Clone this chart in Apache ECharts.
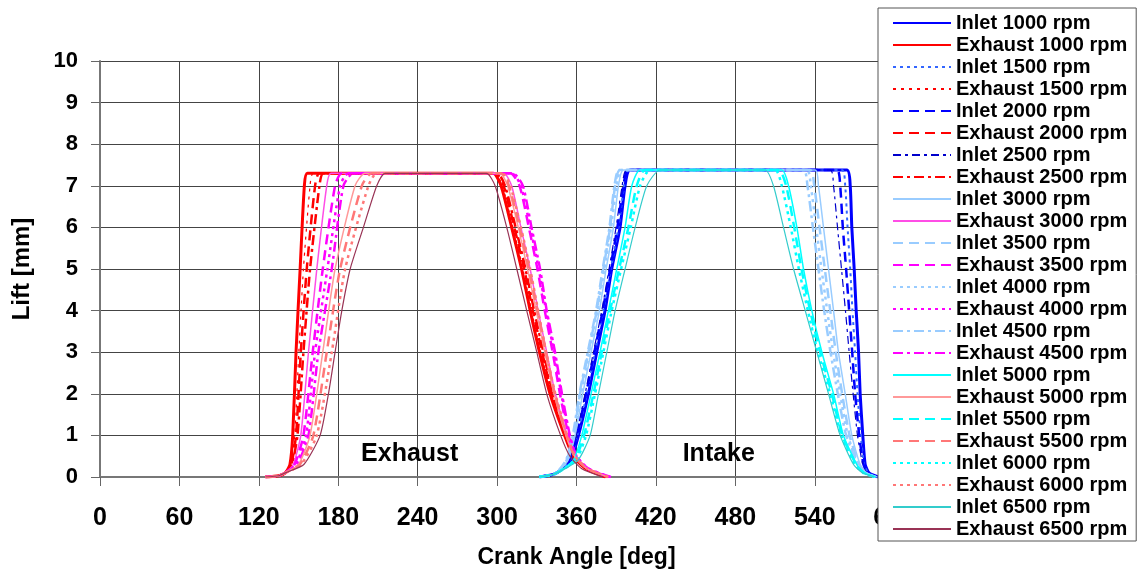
<!DOCTYPE html>
<html>
<head>
<meta charset="utf-8">
<script src="https://cdn.jsdelivr.net/npm/echarts@6/dist/echarts.min.js"></script>
<style>
html, body { margin: 0; padding: 0; background: #fff; }
#chart { width: 1143px; height: 574px; }
</style>
</head>
<body>
<div id="chart"></div>
<script>
// crank angle [deg] / lift [mm] pairs
var exhaust1000 = [[125,0],[135,0.03],[140,0.1],[143.5,0.3],[145.6,1],[148.1,3],[151.2,5],[154.4,7],[156.7,7.3],[297,7.3],[303,7],[311,6],[318.5,5],[325,4],[332,3],[340,2],[351,1],[357.5,0.5],[367,0.2],[382,0]];
var exhaust1500 = [[125,0],[135,0.03],[140,0.1],[144,0.3],[147.1,1],[150.2,3],[153.7,5],[158.7,7],[161.2,7.3],[298,7.3],[304,7],[312,6],[319.5,5],[326,4],[333,3],[341,2],[351.5,1],[358,0.5],[367.5,0.2],[383,0]];
var exhaust2000 = [[125,0],[135,0.03],[140,0.1],[144.5,0.3],[148.1,1],[151.7,3],[156.2,5],[162.5,7],[165.8,7.3],[299,7.3],[305,7],[313,6],[320.5,5],[327,4],[334,3],[341.5,2],[352,1],[358,0.5],[368,0.2],[383,0]];
var exhaust2500 = [[125,0],[135,0.03],[140,0.1],[145,0.3],[149.2,1],[153.7,3],[158.7,5],[165.8,7],[168.8,7.3],[300,7.3],[306,7],[314,6],[321.5,5],[328,4],[335,3],[342,2],[352,1],[358.5,0.5],[368,0.2],[384,0]];
var exhaust3000 = [[125,0],[135,0.03],[140,0.1],[146,0.3],[151.7,1],[157.5,3],[163.8,5],[171.3,7],[174.5,7.3],[305,7.3],[311,7],[318,6],[325,5],[331,4],[337.5,3],[344,2],[353,1],[359,0.5],[368,0.2],[384,0]];
var exhaust3500 = [[125,0],[135,0.03],[140,0.1],[147,0.3],[153.7,1],[160.7,3],[168.3,5],[177.6,7],[182.7,7.3],[310,7.3],[317,7],[324,6],[330.5,5],[336,4],[342,3],[347.5,2],[354,1],[359.5,0.5],[368.5,0.2],[385,0]];
var exhaust4000 = [[125,0],[135,0.03],[140,0.1],[148,0.3],[155.7,1],[162.5,3],[171.8,5],[181.4,7],[187.7,7.3],[311,7.3],[318,7],[325,6],[331.5,5],[337,4],[343,3],[348.5,2],[354.5,1],[360,0.5],[369,0.2],[385,0]];
var exhaust4500 = [[125,0],[135,0.03],[140,0.1],[149,0.3],[157.5,1],[165,3],[175.1,5],[183.9,7],[191.5,7.3],[312,7.3],[319.5,7],[326,6],[332.5,5],[337.5,4],[343.8,3],[349,2],[355,1],[360,0.5],[369,0.2],[386,0]];
var exhaust5000 = [[125,0],[135,0.03],[140,0.1],[150,0.3],[158.7,1],[168.3,3],[177.6,5],[192.7,7],[200.3,7.3],[302,7.3],[308,7],[316,6],[323,5],[329.5,4],[336,3],[343,2],[352,1],[358.5,0.5],[368,0.2],[384,0]];
var exhaust5500 = [[125,0],[135,0.03],[140,0.1],[151,0.3],[161.2,1],[171.3,3],[181.4,5],[197.8,7],[205.3,7.3],[303,7.3],[309,7],[317,6],[324,5],[330.5,4],[337,3],[343.5,2],[352.5,1],[358.5,0.5],[368,0.2],[384,0]];
var exhaust6000 = [[125,0],[135,0.03],[140,0.1],[152,0.3],[163.8,1],[175.1,3],[185.2,5],[202.8,7],[209.1,7.3],[304,7.3],[310,7],[318,6],[325,5],[331,4],[337,3],[344,2],[353,1],[359,0.5],[368,0.2],[384,0]];
var exhaust6500 = [[125,0],[135,0.03],[140,0.1],[154,0.3],[166.3,1],[172.6,2],[177.6,3],[182.7,4],[189,5],[199,6],[209.1,7],[215.4,7.3],[292,7.3],[298.5,7],[307.3,6],[314.9,5],[322.4,4],[330,3],[337.5,2],[348,1],[355,0.5],[364,0.2],[380,0]];

var inlet1000 = [[332,0],[344,0.08],[355.5,0.4],[361.5,1],[369,2],[375.3,3],[381.6,4],[386.6,5],[392.9,6],[396.7,7],[400.5,7.38],[564.3,7.38],[566.8,7],[568,6],[569.8,5],[571.3,4],[573.1,3],[574.3,2],[576.3,1],[578.1,0.3],[581,0.1],[588,0]];
var inlet1500 = [[332,0],[344,0.08],[355,0.4],[360.7,1],[367.8,2],[374,3],[380.3,4],[385.9,5],[391.7,6],[396,7],[399.2,7.38],[560.5,7.38],[563,7],[564.8,6],[566.8,5],[568.5,4],[570.5,3],[572.3,2],[574.8,1],[577.3,0.3],[580.5,0.1],[588,0]];
var inlet2000 = [[332,0],[344,0.08],[354.5,0.4],[360.2,1],[367.2,2],[373.5,3],[379.8,4],[385.4,5],[390.9,6],[395.5,7],[399.2,7.38],[556.7,7.38],[559.2,7],[561.2,6],[563.7,5],[566,4],[568.3,3],[570.5,2],[573.6,1],[576.8,0.3],[580,0.1],[587,0]];
var inlet2500 = [[332,0],[344,0.08],[354,0.4],[359.7,1],[366.5,2],[372.8,3],[379.1,4],[384.6,5],[389.9,6],[394.5,7],[398,7.38],[551.7,7.38],[554.2,7],[557.2,6],[560.2,5],[563.2,4],[566,3],[569,2],[572.3,1],[576.3,0.3],[579.5,0.1],[587,0]];
var inlet3000 = [[332,0],[344,0.08],[353.5,0.4],[358.9,1],[364.7,2],[371,3],[377.3,4],[382.4,5],[387.9,6],[391.7,7],[395.5,7.38],[540.3,7.38],[542.8,7],[546.6,6],[550.4,5],[554.2,4],[557.9,3],[563,2],[568,1],[574.3,0.3],[579,0.1],[587,0]];
var inlet3500 = [[332,0],[344,0.08],[352.5,0.4],[357.7,1],[362.7,2],[369,3],[375.3,4],[380.3,5],[385.4,6],[389.2,7],[392.9,7.38],[536.5,7.38],[539.6,7],[543.6,6],[547.6,5],[551.7,4],[555.9,3],[560.7,2],[566.3,1],[573.6,0.3],[578.5,0.1],[586,0]];
var inlet4000 = [[332,0],[344,0.08],[353,0.4],[358.2,1],[363.5,2],[369.8,3],[375.8,4],[381.1,5],[386.1,6],[390.4,7],[394.2,7.38],[534,7.38],[537,7],[541.1,6],[545.1,5],[549.4,4],[553.9,3],[559.2,2],[565,1],[573.1,0.3],[578,0.1],[586,0]];
var inlet4500 = [[332,0],[344,0.08],[352,0.4],[357.2,1],[362.2,2],[368.5,3],[374.8,4],[379.8,5],[384.9,6],[388.7,7],[392.4,7.38],[531.5,7.38],[534.5,7],[538.6,6],[542.8,5],[547.1,4],[551.9,3],[557.4,2],[563.7,1],[572.6,0.3],[578,0.1],[586,0]];
var inlet5000 = [[332,0],[344,0.08],[357.5,0.4],[364,1],[371,2],[377.8,3],[384.1,4],[390.4,5],[396.7,6],[401.8,7],[408.1,7.38],[515.1,7.38],[520.2,7],[526.5,6],[531.5,5],[537.8,4],[545.4,3],[554.2,2],[561.7,1],[571.8,0.3],[577.5,0.1],[586,0]];
var inlet5500 = [[332,0],[344,0.08],[358.5,0.4],[365.7,1],[372.8,2],[379.1,3],[385.4,4],[392.2,5],[399.2,6],[405.5,7],[411.8,7.38],[512.6,7.38],[518.4,7],[524.5,6],[530,5],[536.5,4],[544.1,3],[552.9,2],[560.7,1],[571.3,0.3],[577,0.1],[585,0]];
var inlet6000 = [[332,0],[344,0.08],[359.5,0.4],[367.2,1],[374,2],[380.3,3],[386.6,4],[393.7,5],[401,6],[408.1,7],[415.6,7.38],[510.1,7.38],[515.1,7],[521.9,6],[528,5],[534.8,4],[542.3,3],[551.7,2],[560,1],[570.5,0.3],[576.5,0.1],[585,0]];
var inlet6500 = [[332,0],[344,0.08],[361,0.4],[370.3,1],[376.6,2],[382.9,3],[389.2,4],[396.7,5],[404.3,6],[413.1,7],[423.2,7.38],[502.5,7.38],[508.8,7],[516.4,6],[524,5],[532.8,4],[541.6,3],[550.4,2],[559.2,1],[569.3,0.3],[576,0.1],[585,0]];

var rpms = [1000, 1500, 2000, 2500, 3000, 3500, 4000, 4500, 5000, 5500, 6000, 6500];
var inletData = [inlet1000, inlet1500, inlet2000, inlet2500, inlet3000, inlet3500, inlet4000, inlet4500, inlet5000, inlet5500, inlet6000, inlet6500];
var exhaustData = [exhaust1000, exhaust1500, exhaust2000, exhaust2500, exhaust3000, exhaust3500, exhaust4000, exhaust4500, exhaust5000, exhaust5500, exhaust6000, exhaust6500];
var xTicks = [0, 60, 120, 180, 240, 300, 360, 420, 480, 540, 600, 660, 720];
var yTicks = [0, 1, 2, 3, 4, 5, 6, 7, 8, 9, 10];
var regionLabels = [['Exhaust', 234, 0.55], ['Intake', 467.5, 0.55]];

// line looks, same order as rpms
var DOT = [3, 4], DASH = [10, 6], DASHDOT = [10, 4, 3, 4];
var inletStyle = [
    {color: '#0000ff', width: 3, type: 'solid'},
    {color: '#3366ff', width: 2, type: DOT},
    {color: '#0000ff', width: 2.5, type: DASH},
    {color: '#0000cc', width: 1.2, type: [8, 4, 3, 4]},
    {color: '#99ccff', width: 1.5, type: 'solid'},
    {color: '#99ccff', width: 2.5, type: DASH},
    {color: '#99ccff', width: 2.5, type: DOT},
    {color: '#99ccff', width: 2.5, type: DASHDOT},
    {color: '#00ffff', width: 1.5, type: 'solid'},
    {color: '#00ffff', width: 2.5, type: DASH},
    {color: '#00ffff', width: 2.5, type: DOT},
    {color: '#33cccc', width: 1.2, type: 'solid'}
];
var exhaustStyle = [
    {color: '#ff0000', width: 3, type: 'solid'},
    {color: '#ff0000', width: 1.2, type: [3, 5]},
    {color: '#ff0000', width: 2.5, type: DASH},
    {color: '#ff0000', width: 2.5, type: DASHDOT},
    {color: '#ff4de6', width: 1.5, type: 'solid'},
    {color: '#ff00ff', width: 2.5, type: DASH},
    {color: '#ff00ff', width: 2.5, type: DOT},
    {color: '#ff00ff', width: 2.5, type: DASHDOT},
    {color: '#ff9999', width: 1.5, type: 'solid'},
    {color: '#ff7777', width: 2.5, type: DASH},
    {color: '#ff7777', width: 2.5, type: DOT},
    {color: '#993355', width: 1.2, type: 'solid'}
];

var FONT = '"Liberation Sans", Arial, sans-serif';

function lineSeries(name, data, style){
    return {
        name: name,
        type: 'line',
        data: data,
        symbol: 'none',
        smooth: 0.2,
        z: 3,
        color: style.color,
        lineStyle: {color: style.color, width: style.width, type: style.type}
    };
}

var series = [], legendNames = [];
rpms.forEach(function(rpm, i){
    var inName = 'Inlet ' + rpm + ' rpm',
        exName = 'Exhaust ' + rpm + ' rpm';
    legendNames.push(inName, exName);
    series.push(lineSeries(inName, inletData[i], inletStyle[i]));
    series.push(lineSeries(exName, exhaustData[i], exhaustStyle[i]));
});

series.push({
    name: 'labels',
    type: 'scatter',
    symbolSize: 0,
    silent: true,
    z: 5,
    itemStyle: {opacity: 1},
    data: regionLabels.map(function(l){ return {name: l[0], value: [l[1], l[2]]}; }),
    label: {
        show: true,
        position: 'inside',
        formatter: '{b}',
        color: '#000',
        opacity: 1,
        textBorderWidth: 0,
        fontFamily: FONT,
        fontWeight: 'bold',
        fontSize: 25
    }
});

var chart = echarts.init(document.getElementById('chart'));
chart.setOption({
    animation: false,
    backgroundColor: '#fff',
    grid: {left: 100, right: 90, top: 61, bottom: 96},
    legend: {
        data: legendNames,
        orient: 'vertical',
        left: 878,
        top: 8,
        padding: [5, 9, 2, 14],
        itemWidth: 58,
        itemHeight: 14,
        itemGap: 2,
        backgroundColor: '#fff',
        borderColor: '#555',
        borderWidth: 1,
        z: 10,
        selectedMode: false,
        itemStyle: {opacity: 0},
        textStyle: {color: '#000', fontFamily: FONT, fontWeight: 'bold', fontSize: 20}
    },
    xAxis: {
        type: 'value',
        min: xTicks[0],
        max: xTicks[xTicks.length - 1],
        interval: 60,
        name: 'Crank Angle [deg]',
        nameLocation: 'middle',
        nameGap: 69,
        nameTextStyle: {color: '#000', fontFamily: FONT, fontWeight: 'bold', fontSize: 23},
        axisLine: {onZero: false, lineStyle: {color: '#777', width: 2}},
        axisTick: {show: true, length: 9, lineStyle: {color: '#666'}},
        axisLabel: {color: '#000', fontFamily: FONT, fontWeight: 'bold', fontSize: 25, margin: 29},
        splitLine: {show: true, lineStyle: {color: '#444', width: 1}}
    },
    yAxis: {
        type: 'value',
        min: yTicks[0],
        max: yTicks[yTicks.length - 1],
        interval: 1,
        name: 'Lift [mm]',
        nameLocation: 'middle',
        nameGap: 66,
        nameTextStyle: {color: '#000', fontFamily: FONT, fontWeight: 'bold', fontSize: 24},
        axisLine: {show: true, lineStyle: {color: '#777', width: 2}},
        axisTick: {show: true, length: 9, lineStyle: {color: '#666'}},
        axisLabel: {color: '#000', fontFamily: FONT, fontWeight: 'bold', fontSize: 22, margin: 22},
        splitLine: {show: true, lineStyle: {color: '#444', width: 1}}
    },
    series: series
});
</script>
</body>
</html>
